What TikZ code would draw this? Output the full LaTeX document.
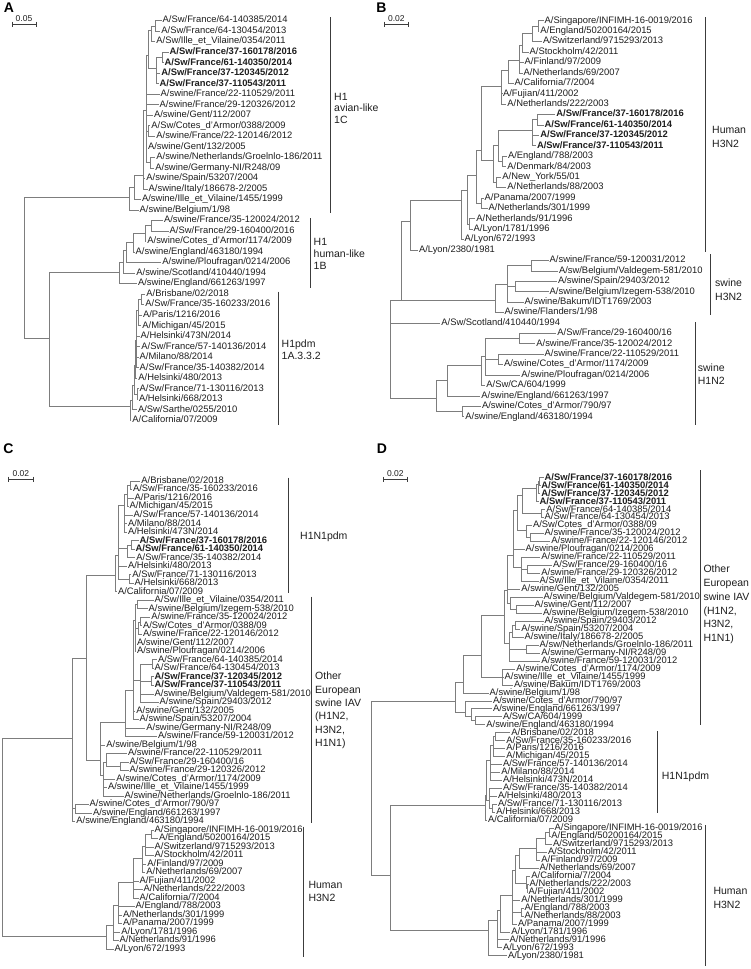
\documentclass[tikz,border=0pt]{standalone}
\usepackage{fontspec}
\setmainfont{Liberation Sans}
\usepackage{tikz}
\definecolor{treegray}{RGB}{125,125,125}
\definecolor{bargray}{RGB}{60,60,60}
\definecolor{labelgray}{RGB}{30,30,30}
\tikzset{
    leaf/.style={anchor=west,inner sep=1pt,text height=6.8pt,text depth=2pt,text=labelgray,font=\fontsize{9.4}{10}\selectfont},
    boldleaf/.style={leaf,font=\fontsize{9.4}{10}\selectfont\bfseries},
    branch/.style={draw=treegray,line width=0.6pt},
    cladebar/.style={draw=bargray,line width=0.8pt},
    cladename/.style={anchor=west,align=left,inner sep=0pt,text=labelgray,font=\fontsize{10.5}{13.4}\selectfont},
    panel/.style={inner sep=0pt,font=\fontsize{14}{14}\selectfont\bfseries},
    scaletext/.style={inner sep=0pt,text=labelgray,font=\fontsize{8.5}{9}\selectfont}
}
\newcommand{\treeclade}[2]{\foreach \kid in {#2}{\draw[branch] (#1) |- (\kid);}}

\begin{document}
\begin{tikzpicture}[x=1pt,y=-1pt]
\useasboundingbox (0,0) rectangle (751,969);

% ---------------- panel A
\node[panel] (pA) at (9,8) {A};
\draw[cladebar] (12,21.5) -- (12,26.5) (12,24) -- (36,24) (36,21.5) -- (36,26.5);
\node[scaletext] (sA) at (24,18.5) {0.05};
% leaves
\node[leaf] (a1) at (161.5,20.5) {A/Sw/France/64-140385/2014};
\node[leaf] (a2) at (160.2,31.0) {A/Sw/France/64-130454/2013};
\node[leaf] (a3) at (155.2,41.5) {A/Sw/Ille\_et\_Vilaine/0354/2011};
\node[boldleaf] (a4) at (168.5,52.1) {A/Sw/France/37-160178/2016};
\node[boldleaf] (a5) at (163.5,62.6) {A/Sw/France/61-140350/2014};
\node[boldleaf] (a6) at (160.2,73.1) {A/Sw/France/37-120345/2012};
\node[boldleaf] (a7) at (158.5,83.6) {A/Sw/France/37-110543/2011};
\node[leaf] (a8) at (159.5,94.1) {A/swine/France/22-110529/2011};
\node[leaf] (a9) at (158.5,104.7) {A/swine/France/29-120326/2012};
\node[leaf] (a10) at (152.8,115.2) {A/swine/Gent/112/2007};
\node[leaf] (a11) at (150.2,125.7) {A/Sw/Cotes\_d'Armor/0388/2009};
\node[leaf] (a12) at (155.2,136.2) {A/swine/France/22-120146/2012};
\node[leaf] (a13) at (146.8,146.7) {A/swine/Gent/132/2005};
\node[leaf] (a14) at (155.2,157.3) {A/swine/Netherlands/Groelnlo-186/2011};
\node[leaf] (a15) at (154.2,167.8) {A/swine/Germany-NI/R248/09};
\node[leaf] (a16) at (145.2,178.3) {A/swine/Spain/53207/2004};
\node[leaf] (a17) at (147.5,188.8) {A/swine/Italy/186678-2/2005};
\node[leaf] (a18) at (140.8,199.3) {A/swine/Ille\_et\_Vilaine/1455/1999};
\node[leaf] (a19) at (138.5,209.9) {A/swine/Belgium/1/98};
\node[leaf] (a20) at (162.8,220.4) {A/swine/France/35-120024/2012};
\node[leaf] (a21) at (168.5,230.9) {A/Sw/France/29-160400/2016};
\node[leaf] (a22) at (146.2,241.4) {A/swine/Cotes\_d'Armor/1174/2009};
\node[leaf] (a23) at (134.5,251.9) {A/swine/England/463180/1994};
\node[leaf] (a24) at (161.2,262.5) {A/swine/Ploufragan/0214/2006};
\node[leaf] (a25) at (135.2,273.0) {A/swine/Scotland/410440/1994};
\node[leaf] (a26) at (136.8,283.5) {A/swine/England/661263/1997};
\node[leaf] (a27) at (145.2,294.0) {A/Brisbane/02/2018};
\node[leaf] (a28) at (144.2,304.5) {A/Sw/France/35-160233/2016};
\node[leaf] (a29) at (141.8,315.1) {A/Paris/1216/2016};
\node[leaf] (a30) at (141.2,325.6) {A/Michigan/45/2015};
\node[leaf] (a31) at (139.5,336.1) {A/Helsinki/473N/2014};
\node[leaf] (a32) at (140.2,346.6) {A/Sw/France/57-140136/2014};
\node[leaf] (a33) at (138.5,357.1) {A/Milano/88/2014};
\node[leaf] (a34) at (138.5,367.7) {A/Sw/France/35-140382/2014};
\node[leaf] (a35) at (137.2,378.2) {A/Helsinki/480/2013};
\node[leaf] (a36) at (138.5,388.7) {A/Sw/France/71-130116/2013};
\node[leaf] (a37) at (137.8,399.2) {A/Helsinki/668/2013};
\node[leaf] (a38) at (136.8,409.7) {A/Sw/Sarthe/0255/2010};
\node[leaf] (a39) at (131.2,420.3) {A/California/07/2009};
% inner nodes
\coordinate (aRoot) at (24.3,268);
\coordinate (aAv) at (129.3,197.7);
\coordinate (aAv1) at (134.3,187);
\coordinate (aAv2) at (143.3,175);
\coordinate (aAv3) at (146,110);
\coordinate (aAv5) at (148,55);
\coordinate (aAv6) at (148.3,131);
\coordinate (aAv7) at (150,162.5);
\coordinate (aAv8) at (151.5,30);
\coordinate (aAv9) at (156.5,68);
\coordinate (aAv10) at (155,25.8);
\coordinate (aAv11) at (162.5,57.3);
\coordinate (aHB) at (49,338.3);
\coordinate (aB1) at (119.5,272.3);
\coordinate (aB2) at (123,262);
\coordinate (aB3) at (126,250);
\coordinate (aB4) at (133,242);
\coordinate (aB5) at (145,233);
\coordinate (aB6) at (151.5,225.6);
\coordinate (aP1) at (130,406.7);
\coordinate (aP2) at (132,400);
\coordinate (aP3) at (134,385);
\coordinate (aP4) at (135.5,365);
\coordinate (aP5) at (136.5,340);
\coordinate (aP6) at (138,310);
\coordinate (aP6b) at (141,299.2);
\coordinate (aP7) at (136.8,394);
% branches
\treeclade{aRoot}{aAv,aHB}
\treeclade{aAv}{aAv1,a19}
\treeclade{aAv1}{aAv2,a18}
\treeclade{aAv2}{aAv3,a16,a17}
\treeclade{aAv3}{aAv5,a8,a9,a10,aAv6,a13,aAv7}
\treeclade{aAv5}{aAv8,aAv9}
\treeclade{aAv8}{aAv10,a3}
\treeclade{aAv10}{a1,a2}
\treeclade{aAv9}{aAv11,a6,a7}
\treeclade{aAv11}{a4,a5}
\treeclade{aAv6}{a11,a12}
\treeclade{aAv7}{a14,a15}
\treeclade{aHB}{aB1,aP1}
\treeclade{aB1}{aB2,a26}
\treeclade{aB2}{aB3,a25}
\treeclade{aB3}{aB4,a24}
\treeclade{aB4}{aB5,a23}
\treeclade{aB5}{aB6,a22}
\treeclade{aB6}{a20,a21}
\treeclade{aP1}{aP2,a39}
\treeclade{aP2}{aP3,a38}
\treeclade{aP3}{aP4,aP7}
\treeclade{aP7}{a36,a37}
\treeclade{aP4}{aP5,a35}
\treeclade{aP5}{aP6,a31,a32,a33,a34}
\treeclade{aP6}{aP6b,a29,a30}
\treeclade{aP6b}{a27,a28}
% clades
\draw[cladebar] (330,17) -- (330,213);
\node[cladename,font=\fontsize{10.5}{11.5}\selectfont] (lAvA) at (334,108) {H1\\avian-like\\1C};
\draw[cladebar] (310,218) -- (310,288);
\node[cladename,font=\fontsize{10.5}{12}\selectfont] (lHuA) at (313.5,254) {H1\\human-like\\1B};
\draw[cladebar] (278.3,291.7) -- (278.3,425);
\node[cladename,font=\fontsize{10.5}{12.5}\selectfont] (lPdA) at (281.5,349.7) {H1pdm\\1A.3.3.2};

% ---------------- panel B
\node[panel] (pB) at (381.5,8) {B};
\draw[cladebar] (384.3,21.5) -- (384.3,26.5) (384.3,24) -- (408.3,24) (408.3,21.5) -- (408.3,26.5);
\node[scaletext] (sB) at (396.3,18.5) {0.02};
% leaves
\node[leaf] (b1) at (543.5,20.7) {A/Singapore/INFIMH-16-0019/2016};
\node[leaf] (b2) at (539.2,31.1) {A/England/50200164/2015};
\node[leaf] (b3) at (541.8,41.5) {A/Switzerland/9715293/2013};
\node[leaf] (b4) at (528.5,52.0) {A/Stockholm/42/2011};
\node[leaf] (b5) at (523.5,62.4) {A/Finland/97/2009};
\node[leaf] (b6) at (522.5,72.8) {A/Netherlands/69/2007};
\node[leaf] (b7) at (513.5,83.2) {A/California/7/2004};
\node[leaf] (b8) at (501.8,93.6) {A/Fujian/411/2002};
\node[leaf] (b9) at (506.2,104.1) {A/Netherlands/222/2003};
\node[boldleaf] (b10) at (555.2,114.5) {A/Sw/France/37-160178/2016};
\node[boldleaf] (b11) at (543.5,124.9) {A/Sw/France/61-140350/2014};
\node[boldleaf] (b12) at (539.2,135.3) {A/Sw/France/37-120345/2012};
\node[boldleaf] (b13) at (535.8,145.7) {A/Sw/France/37-110543/2011};
\node[leaf] (b14) at (506.8,156.2) {A/England/788/2003};
\node[leaf] (b15) at (506.2,166.6) {A/Denmark/84/2003};
\node[leaf] (b16) at (501.2,177.0) {A/New\_York/55/01};
\node[leaf] (b17) at (506.2,187.4) {A/Netherlands/88/2003};
\node[leaf] (b18) at (483.5,197.8) {A/Panama/2007/1999};
\node[leaf] (b19) at (487.5,208.3) {A/Netherlands/301/1999};
\node[leaf] (b20) at (475.2,218.7) {A/Netherlands/91/1996};
\node[leaf] (b21) at (472.5,229.1) {A/Lyon/1781/1996};
\node[leaf] (b22) at (463.5,239.5) {A/Lyon/672/1993};
\node[leaf] (b23) at (417.8,249.9) {A/Lyon/2380/1981};
\node[leaf] (b24) at (548.5,260.3) {A/swine/France/59-120031/2012};
\node[leaf] (b25) at (557.8,270.8) {A/sw/Belgium/Valdegem-581/2010};
\node[leaf] (b26) at (556.8,281.2) {A/swine/Spain/29403/2012};
\node[leaf] (b27) at (548.5,291.6) {A/swine/Belgium/Izegem-538/2010};
\node[leaf] (b28) at (523.5,302.0) {A/swine/Bakum/IDT1769/2003};
\node[leaf] (b29) at (503.5,312.4) {A/swine/Flanders/1/98};
\node[leaf] (b30) at (440.2,322.9) {A/Sw/Scotland/410440/1994};
\node[leaf] (b31) at (556.2,333.3) {A/Sw/France/29-160400/16};
\node[leaf] (b32) at (535.2,343.7) {A/swine/France/35-120024/2012};
\node[leaf] (b33) at (543.5,354.1) {A/swine/France/22-110529/2011};
\node[leaf] (b34) at (502.8,364.5) {A/swine/Cotes\_d'Armor/1174/2009};
\node[leaf] (b35) at (520.2,374.9) {A/swine/Ploufragan/0214/2006};
\node[leaf] (b36) at (485.2,385.4) {A/Sw/CA/604/1999};
\node[leaf] (b37) at (480.2,395.8) {A/swine/England/661263/1997};
\node[leaf] (b38) at (480.8,406.2) {A/swine/Cotes\_d'Armor/790/97};
\node[leaf] (b39) at (464.2,416.6) {A/swine/England/463180/1994};
% inner nodes
\coordinate (bRoot) at (390,360);
\coordinate (bQ) at (401,300);
\coordinate (bH1) at (410,221.7);
\coordinate (bH2) at (461,200);
\coordinate (bH3) at (467,190);
\coordinate (bH4) at (469.5,224);
\coordinate (bH5) at (476.5,175);
\coordinate (bH6) at (481.5,203);
\coordinate (bH7) at (481.7,150);
\coordinate (bH8) at (501.5,86.7);
\coordinate (bH8a) at (508,70);
\coordinate (bH8b) at (519,60);
\coordinate (bH8c) at (522,45);
\coordinate (bH8d) at (532,33);
\coordinate (bH8e) at (538,26);
\coordinate (bH9) at (493.5,160);
\coordinate (bH10) at (498,145);
\coordinate (bH11) at (532,130);
\coordinate (bH11b) at (537.5,119.7);
\coordinate (bH12) at (502.5,161.4);
\coordinate (bH13) at (496.5,182);
\coordinate (bS3) at (495,300);
\coordinate (bS3a) at (507.5,284);
\coordinate (bS3b) at (531,265.5);
\coordinate (bS3c) at (515,286.4);
\coordinate (bHN) at (436.7,398.3);
\coordinate (bHN1) at (447.5,380);
\coordinate (bHN2) at (462,411.4);
\coordinate (bHN3) at (481,365);
\coordinate (bHN4) at (485,356);
\coordinate (bHN5) at (519.5,338.5);
\coordinate (bHN6) at (498.3,359.3);
% branches
\treeclade{bRoot}{bQ,b30,bHN}
\treeclade{bQ}{bH1,bS3}
\treeclade{bH1}{bH2,b23}
\treeclade{bH2}{bH3,b22}
\treeclade{bH3}{bH5,bH4}
\treeclade{bH4}{b20,b21}
\treeclade{bH5}{bH7,bH6}
\treeclade{bH6}{b18,b19}
\treeclade{bH7}{bH8,bH9}
\treeclade{bH8}{bH8a,b8,b9}
\treeclade{bH8a}{bH8b,b7}
\treeclade{bH8b}{bH8c,b5,b6}
\treeclade{bH8c}{bH8d,b4}
\treeclade{bH8d}{bH8e,b3}
\treeclade{bH8e}{b1,b2}
\treeclade{bH9}{bH10,bH13}
\treeclade{bH10}{bH11,bH12}
\treeclade{bH11}{bH11b,b12,b13}
\treeclade{bH11b}{b10,b11}
\treeclade{bH12}{b14,b15}
\treeclade{bH13}{b16,b17}
\treeclade{bS3}{bS3a,b29}
\treeclade{bS3a}{bS3b,bS3c,b28}
\treeclade{bS3b}{b24,b25}
\treeclade{bS3c}{b26,b27}
\treeclade{bHN}{bHN1,bHN2}
\treeclade{bHN1}{bHN3,b37}
\treeclade{bHN2}{b38,b39}
\treeclade{bHN3}{bHN4,b36}
\treeclade{bHN4}{bHN5,bHN6,b35}
\treeclade{bHN5}{b31,b32}
\treeclade{bHN6}{b33,b34}
% clades
\draw[cladebar] (705,17) -- (705,252);
\node[cladename,font=\fontsize{10.5}{14}\selectfont] (lHuB) at (712,136.5) {Human\\H3N2};
\draw[cladebar] (710,254) -- (710,315);
\node[cladename,font=\fontsize{10.5}{14}\selectfont] (lS3B) at (715,289.7) {swine\\H3N2};
\draw[cladebar] (695,322) -- (695,425);
\node[cladename,font=\fontsize{10.5}{13.5}\selectfont] (lS1B) at (697.7,374.3) {swine\\H1N2};

% ---------------- panel C
\node[panel] (pC) at (8.5,449) {C};
\draw[cladebar] (8.3,476.5) -- (8.3,481.5) (8.3,479) -- (33.3,479) (33.3,476.5) -- (33.3,481.5);
\node[scaletext] (sC) at (20.8,473.5) {0.02};
% leaves
\node[leaf] (c1) at (140.2,481.0) {A/Brisbane/02/2018};
\node[leaf] (c2) at (131.8,489.5) {A/Sw/France/35-160233/2016};
\node[leaf] (c3) at (133.5,498.0) {A/Paris/1216/2016};
\node[leaf] (c4) at (128.5,506.5) {A/Michigan/45/2015};
\node[leaf] (c5) at (132.5,515.0) {A/Sw/France/57-140136/2014};
\node[leaf] (c6) at (126.8,523.6) {A/Milano/88/2014};
\node[leaf] (c7) at (126.8,532.1) {A/Helsinki/473N/2014};
\node[boldleaf] (c8) at (138.5,540.6) {A/Sw/France/37-160178/2016};
\node[boldleaf] (c9) at (134.5,549.1) {A/Sw/France/61-140350/2014};
\node[leaf] (c10) at (135.2,557.6) {A/Sw/France/35-140382/2014};
\node[leaf] (c11) at (126.8,566.1) {A/Helsinki/480/2013};
\node[leaf] (c12) at (131.2,574.6) {A/Sw/France/71-130116/2013};
\node[leaf] (c13) at (133.5,583.1) {A/Helsinki/668/2013};
\node[leaf] (c14) at (116.8,591.6) {A/California/07/2009};
\node[leaf] (c15) at (153.5,600.1) {A/Sw/Ille\_et\_Vilaine/0354/2011};
\node[leaf] (c16) at (147.5,608.7) {A/swine/Belgium/Izegem-538/2010};
\node[leaf] (c17) at (150.2,617.2) {A/swine/France/35-120024/2012};
\node[leaf] (c18) at (141.8,625.7) {A/Sw/Cotes\_d'Armor/0388/09};
\node[leaf] (c19) at (141.8,634.2) {A/swine/France/22-120146/2012};
\node[leaf] (c20) at (135.8,642.7) {A/swine/Gent/112/2007};
\node[leaf] (c21) at (135.8,651.2) {A/swine/Ploufragan/0214/2006};
\node[leaf] (c22) at (156.8,659.7) {A/Sw/France/64-140385/2014};
\node[leaf] (c23) at (153.5,668.2) {A/Sw/France/64-130454/2013};
\node[boldleaf] (c24) at (153.5,676.7) {A/Sw/France/37-120345/2012};
\node[boldleaf] (c25) at (153.5,685.2) {A/Sw/France/37-110543/2011};
\node[leaf] (c26) at (153.5,693.8) {A/swine/Belgium/Valdegem-581/2010};
\node[leaf] (c27) at (158.5,702.3) {A/swine/Spain/29403/2012};
\node[leaf] (c28) at (135.2,710.8) {A/swine/Gent/132/2005};
\node[leaf] (c29) at (138.5,719.3) {A/swine/Spain/53207/2004};
\node[leaf] (c30) at (145.2,727.8) {A/swine/Germany-NI/R248/09};
\node[leaf] (c31) at (156.8,736.3) {A/swine/France/59-120031/2012};
\node[leaf] (c32) at (105.2,744.8) {A/swine/Belgium/1/98};
\node[leaf] (c33) at (126.8,753.3) {A/swine/France/22-110529/2011};
\node[leaf] (c34) at (128.5,761.8) {A/Sw/France/29-160400/16};
\node[leaf] (c35) at (128.5,770.3) {A/swine/France/29-120326/2012};
\node[leaf] (c36) at (115.2,778.9) {A/swine/Cotes\_d'Armor/1174/2009};
\node[leaf] (c37) at (106.8,787.4) {A/swine/Ille\_et\_Vilaine/1455/1999};
\node[leaf] (c38) at (123.5,795.9) {A/swine/Netherlands/Groelnlo-186/2011};
\node[leaf] (c39) at (88.5,804.4) {A/swine/Cotes\_d'Armor/790/97};
\node[leaf] (c40) at (91.8,812.9) {A/swine/England/661263/1997};
\node[leaf] (c41) at (75.2,821.4) {A/swine/England/463180/1994};
\node[leaf] (c42) at (153.5,829.9) {A/Singapore/INFIMH-16-0019/2016};
\node[leaf] (c43) at (157.8,838.4) {A/England/50200164/2015};
\node[leaf] (c44) at (153.5,846.9) {A/Switzerland/9715293/2013};
\node[leaf] (c45) at (153.5,855.4) {A/Stockholm/42/2011};
\node[leaf] (c46) at (146.2,864.0) {A/Finland/97/2009};
\node[leaf] (c47) at (145.2,872.5) {A/Netherlands/69/2007};
\node[leaf] (c48) at (138.5,881.0) {A/Fujian/411/2002};
\node[leaf] (c49) at (142.5,889.5) {A/Netherlands/222/2003};
\node[leaf] (c50) at (138.5,898.0) {A/California/7/2004};
\node[leaf] (c51) at (134.5,906.5) {A/England/788/2003};
\node[leaf] (c52) at (121.8,915.0) {A/Netherlands/301/1999};
\node[leaf] (c53) at (121.8,923.5) {A/Panama/2007/1999};
\node[leaf] (c54) at (120.2,932.0) {A/Lyon/1781/1996};
\node[leaf] (c55) at (118.5,940.5) {A/Netherlands/91/1996};
\node[leaf] (c56) at (113.5,949.1) {A/Lyon/672/1993};
% inner nodes
\coordinate (cRoot) at (2.7,838);
\coordinate (cN1) at (72.7,738);
\coordinate (cN2) at (86,658.3);
\coordinate (cN3) at (75.5,808.6);
\coordinate (cP0) at (115,575);
\coordinate (cP1) at (118,555);
\coordinate (cP2) at (124.5,505);
\coordinate (cP3) at (127.5,548);
\coordinate (cP4) at (129.5,578.9);
\coordinate (cP5) at (127.5,494);
\coordinate (cP6) at (130,485.3);
\coordinate (cP7) at (131,544.9);
\coordinate (cE) at (100,760);
\coordinate (cE1a) at (125,722);
\coordinate (cE1b) at (133,690);
\coordinate (cE1c) at (135,620);
\coordinate (cE1d) at (140,680);
\coordinate (cE1e) at (137,604.4);
\coordinate (cE1f) at (138.5,628);
\coordinate (cE1g) at (140,622);
\coordinate (cE1h) at (152.5,664);
\coordinate (cE1i) at (151.5,681);
\coordinate (cE2) at (103.3,775);
\coordinate (cE2a) at (106.5,762);
\coordinate (cE2b) at (120,766);
\coordinate (cH0) at (106.7,936.7);
\coordinate (cH1) at (113,925);
\coordinate (cH2) at (118.5,905);
\coordinate (cH3) at (133,882);
\coordinate (cH4) at (142.5,858);
\coordinate (cH5) at (145.5,846);
\coordinate (cH6) at (151.5,834);
% branches
\treeclade{cRoot}{cN1,cH0}
\treeclade{cN1}{cN2,cN3,c41}
\treeclade{cN3}{c39,c40}
\treeclade{cN2}{cP0,cE}
\treeclade{cP0}{cP1,c14}
\treeclade{cP1}{cP2,cP3,c11,cP4}
\treeclade{cP2}{cP5,c5,c6,c7}
\treeclade{cP5}{cP6,c3,c4}
\treeclade{cP6}{c1,c2}
\treeclade{cP3}{cP7,c10}
\treeclade{cP7}{c8,c9}
\treeclade{cP4}{c12,c13}
\treeclade{cE}{cE1a,c32,cE2}
\treeclade{cE1a}{cE1b,c30,c31}
\treeclade{cE1b}{cE1c,cE1d,c28,c29}
\treeclade{cE1c}{cE1e,cE1f,c20,c21}
\treeclade{cE1e}{c15,c16}
\treeclade{cE1f}{cE1g,c19}
\treeclade{cE1g}{c17,c18}
\treeclade{cE1d}{cE1h,cE1i,c26,c27}
\treeclade{cE1h}{c22,c23}
\treeclade{cE1i}{c24,c25}
\treeclade{cE2}{cE2a,c36,c37,c38}
\treeclade{cE2a}{c33,cE2b}
\treeclade{cE2b}{c34,c35}
\treeclade{cH0}{cH1,c56}
\treeclade{cH1}{cH2,c54,c55}
\treeclade{cH2}{cH3,c51,c52,c53}
\treeclade{cH3}{cH4,c48,c49,c50}
\treeclade{cH4}{cH5,c46,c47}
\treeclade{cH5}{cH6,c44,c45}
\treeclade{cH6}{c42,c43}
% clades
\draw[cladebar] (288.3,477.7) -- (288.3,593.3);
\node[cladename] (lPdC) at (300,536.7) {H1N1pdm};
\draw[cladebar] (311.7,596.7) -- (311.7,823.3);
\node[cladename] (lEuC) at (315,710.5) {Other\\European\\swine IAV\\(H1N2,\\H3N2,\\H1N1)};
\draw[cladebar] (303.3,826.7) -- (303.3,956.7);
\node[cladename] (lHuC) at (308.3,891.7) {Human\\H3N2};

% ---------------- panel D
\node[panel] (pD) at (382,449) {D};
\draw[cladebar] (383.3,476.5) -- (383.3,481.5) (383.3,479) -- (407.3,479) (407.3,476.5) -- (407.3,481.5);
\node[scaletext] (sD) at (395.3,473.5) {0.02};
% leaves
\node[boldleaf] (d1) at (543.5,477.7) {A/Sw/France/37-160178/2016};
\node[boldleaf] (d2) at (540.2,485.7) {A/Sw/France/61-140350/2014};
\node[boldleaf] (d3) at (540.2,493.6) {A/Sw/France/37-120345/2012};
\node[boldleaf] (d4) at (538.5,501.6) {A/Sw/France/37-110543/2011};
\node[leaf] (d5) at (545.2,509.6) {A/Sw/France/64-140385/2014};
\node[leaf] (d6) at (543.5,517.5) {A/Sw/France/64-130454/2013};
\node[leaf] (d7) at (531.8,525.5) {A/Sw/Cotes\_d'Armor/0388/09};
\node[leaf] (d8) at (543.5,533.5) {A/swine/France/35-120024/2012};
\node[leaf] (d9) at (550.2,541.4) {A/swine/France/22-120146/2012};
\node[leaf] (d10) at (524.5,549.4) {A/swine/Ploufragan/0214/2006};
\node[leaf] (d11) at (540.2,557.4) {A/swine/France/22-110529/2011};
\node[leaf] (d12) at (551.8,565.3) {A/Sw/France/29-160400/16};
\node[leaf] (d13) at (540.2,573.3) {A/swine/France/29-120326/2012};
\node[leaf] (d14) at (538.5,581.3) {A/Sw/Ille\_et\_Vilaine/0354/2011};
\node[leaf] (d15) at (520.2,589.2) {A/swine/Gent/132/2005};
\node[leaf] (d16) at (542.5,597.2) {A/swine/Belgium/Valdegem-581/2010};
\node[leaf] (d17) at (533.5,605.2) {A/swine/Gent/112/2007};
\node[leaf] (d18) at (541.8,613.1) {A/swine/Belgium/Izegem-538/2010};
\node[leaf] (d19) at (543.5,621.1) {A/swine/Spain/29403/2012};
\node[leaf] (d20) at (520.2,629.1) {A/swine/Spain/53207/2004};
\node[leaf] (d21) at (523.5,637.0) {A/swine/Italy/186678-2/2005};
\node[leaf] (d22) at (538.5,645.0) {A/sw/Netherlands/Groelnlo-186/2011};
\node[leaf] (d23) at (540.2,653.0) {A/swine/Germany-NI/R248/09};
\node[leaf] (d24) at (540.2,660.9) {A/swine/France/59-120031/2012};
\node[leaf] (d25) at (515.2,668.9) {A/swine/Cotes\_d'Armor/1174/2009};
\node[leaf] (d26) at (503.5,676.9) {A/swine/Ille\_et\_Vilaine/1455/1999};
\node[leaf] (d27) at (512.8,684.8) {A/swine/Bakum/IDT1769/2003};
\node[leaf] (d28) at (488.5,692.8) {A/swine/Belgium/1/98};
\node[leaf] (d29) at (491.8,700.8) {A/swine/Cotes\_d'Armor/790/97};
\node[leaf] (d30) at (491.8,708.7) {A/swine/England/661263/1997};
\node[leaf] (d31) at (501.8,716.7) {A/Sw/CA/604/1999};
\node[leaf] (d32) at (485.2,724.6) {A/swine/England/463180/1994};
\node[leaf] (d33) at (510.2,732.6) {A/Brisbane/02/2018};
\node[leaf] (d34) at (505.2,740.6) {A/Sw/France/35-160233/2016};
\node[leaf] (d35) at (505.2,748.5) {A/Paris/1216/2016};
\node[leaf] (d36) at (505.2,756.5) {A/Michigan/45/2015};
\node[leaf] (d37) at (501.8,764.5) {A/Sw/France/57-140136/2014};
\node[leaf] (d38) at (500.2,772.4) {A/Milano/88/2014};
\node[leaf] (d39) at (501.8,780.4) {A/Helsinki/473N/2014};
\node[leaf] (d40) at (501.8,788.4) {A/Sw/France/35-140382/2014};
\node[leaf] (d41) at (496.8,796.3) {A/Helsinki/480/2013};
\node[leaf] (d42) at (496.8,804.3) {A/Sw/France/71-130116/2013};
\node[leaf] (d43) at (495.2,812.3) {A/Helsinki/668/2013};
\node[leaf] (d44) at (486.8,820.2) {A/California/07/2009};
\node[leaf] (d45) at (553.5,828.2) {A/Singapore/INFIMH-16-0019/2016};
\node[leaf] (d46) at (550.2,836.2) {A/England/50200164/2015};
\node[leaf] (d47) at (551.8,844.1) {A/Switzerland/9715293/2013};
\node[leaf] (d48) at (546.8,852.1) {A/Stockholm/42/2011};
\node[leaf] (d49) at (540.2,860.1) {A/Finland/97/2009};
\node[leaf] (d50) at (538.5,868.0) {A/Netherlands/69/2007};
\node[leaf] (d51) at (530.2,876.0) {A/California/7/2004};
\node[leaf] (d52) at (528.5,884.0) {A/Netherlands/222/2003};
\node[leaf] (d53) at (527.5,891.9) {A/Fujian/411/2002};
\node[leaf] (d54) at (520.2,899.9) {A/Netherlands/301/1999};
\node[leaf] (d55) at (523.5,907.9) {A/England/788/2003};
\node[leaf] (d56) at (523.5,915.8) {A/Netherlands/88/2003};
\node[leaf] (d57) at (516.8,923.8) {A/Panama/2007/1999};
\node[leaf] (d58) at (510.2,931.8) {A/Lyon/1781/1996};
\node[leaf] (d59) at (508.5,939.7) {A/Netherlands/91/1996};
\node[leaf] (d60) at (501.8,947.7) {A/Lyon/672/1993};
\node[leaf] (d61) at (506.8,955.7) {A/Lyon/2380/1981};
% inner nodes
\coordinate (dRoot) at (371.7,790);
\coordinate (dE0) at (455,701.7);
\coordinate (dE1) at (463,682);
\coordinate (dE2) at (465.5,712);
\coordinate (dE3) at (471.7,716);
\coordinate (dE4) at (475,720.7);
\coordinate (dE5) at (481,655);
\coordinate (dE6) at (504,615);
\coordinate (dE7) at (502,676.9);
\coordinate (dE8) at (507,590);
\coordinate (dE9) at (509,643);
\coordinate (dE10) at (512.5,632);
\coordinate (dE10b) at (515,625);
\coordinate (dE11) at (526.5,649);
\coordinate (dE12) at (513,555);
\coordinate (dE13) at (510.5,603);
\coordinate (dE14) at (517,510);
\coordinate (dE15) at (521.5,567);
\coordinate (dE16) at (527,569.3);
\coordinate (dE17) at (522,495);
\coordinate (dE18) at (526.5,530);
\coordinate (dE19) at (530,537.5);
\coordinate (dE20) at (536.5,488);
\coordinate (dE21) at (541,513.5);
\coordinate (dE22) at (538,484);
\coordinate (dE23) at (539.5,481.7);
\coordinate (dE24) at (516,609.2);
\coordinate (dN1) at (390,875);
\coordinate (dP0) at (485,805);
\coordinate (dP1) at (486.5,795);
\coordinate (dP2) at (490,760);
\coordinate (dP3) at (489,800);
\coordinate (dP4) at (493,745);
\coordinate (dP5) at (495,736.6);
\coordinate (dP6) at (492.5,808.3);
\coordinate (dH0) at (488.3,930);
\coordinate (dH1) at (497,920);
\coordinate (dH2) at (500,910);
\coordinate (dH3) at (512,895);
\coordinate (dH4) at (515,870);
\coordinate (dH5) at (521.5,911.9);
\coordinate (dH6) at (519,855);
\coordinate (dH7) at (526,883);
\coordinate (dH7b) at (527.3,888);
\coordinate (dH8) at (536.5,848);
\coordinate (dH9) at (545,838);
\coordinate (dH10) at (549.5,832.2);
% branches
\treeclade{dRoot}{dE0,dN1}
\treeclade{dE0}{dE1,dE2}
\treeclade{dE2}{d29,dE3}
\treeclade{dE3}{d30,dE4}
\treeclade{dE4}{d31,d32}
\treeclade{dE1}{dE5,d28}
\treeclade{dE5}{dE6,dE7}
\treeclade{dE7}{d25,d26,d27}
\treeclade{dE6}{dE8,dE9}
\treeclade{dE8}{dE12,d15,dE13}
\treeclade{dE13}{d16,dE24}
\treeclade{dE24}{d17,d18}
\treeclade{dE9}{dE10,dE11,d24}
\treeclade{dE10}{dE10b,d21}
\treeclade{dE10b}{d19,d20}
\treeclade{dE11}{d22,d23}
\treeclade{dE12}{dE14,d10,dE15}
\treeclade{dE15}{d11,dE16,d14}
\treeclade{dE16}{d12,d13}
\treeclade{dE14}{dE17,dE18}
\treeclade{dE18}{d7,dE19}
\treeclade{dE19}{d8,d9}
\treeclade{dE17}{dE20,dE21}
\treeclade{dE21}{d5,d6}
\treeclade{dE20}{dE22,d4}
\treeclade{dE22}{dE23,d3}
\treeclade{dE23}{d1,d2}
\treeclade{dN1}{dP0,dH0}
\treeclade{dP0}{dP1,d44}
\treeclade{dP1}{dP2,dP3}
\treeclade{dP2}{dP4,d37,d38,d39}
\treeclade{dP4}{dP5,d35,d36}
\treeclade{dP5}{d33,d34}
\treeclade{dP3}{d40,d41,dP6}
\treeclade{dP6}{d42,d43}
\treeclade{dH0}{dH1,d61}
\treeclade{dH1}{dH2,d59,d60}
\treeclade{dH2}{dH3,d58}
\treeclade{dH3}{dH4,d54,dH5,d57}
\treeclade{dH5}{d55,d56}
\treeclade{dH4}{dH6,dH7}
\treeclade{dH7}{d51,dH7b}
\treeclade{dH7b}{d52,d53}
\treeclade{dH6}{dH8,d50}
\treeclade{dH8}{dH9,d48,d49}
\treeclade{dH9}{dH10,d47}
\treeclade{dH10}{d45,d46}
% clades
\draw[cladebar] (700,470) -- (700,725);
\node[cladename,font=\fontsize{10.5}{13.8}\selectfont] (lEuD) at (703.3,604.5) {Other\\European\\swine IAV\\(H1N2,\\H3N2,\\H1N1)};
\draw[cladebar] (657.7,731) -- (657.7,813.3);
\node[cladename] (lPdD) at (661.7,776.7) {H1N1pdm};
\draw[cladebar] (705,825) -- (705,966);
\node[cladename] (lHuD) at (713.3,898) {Human\\H3N2};
\end{tikzpicture}
\end{document}
